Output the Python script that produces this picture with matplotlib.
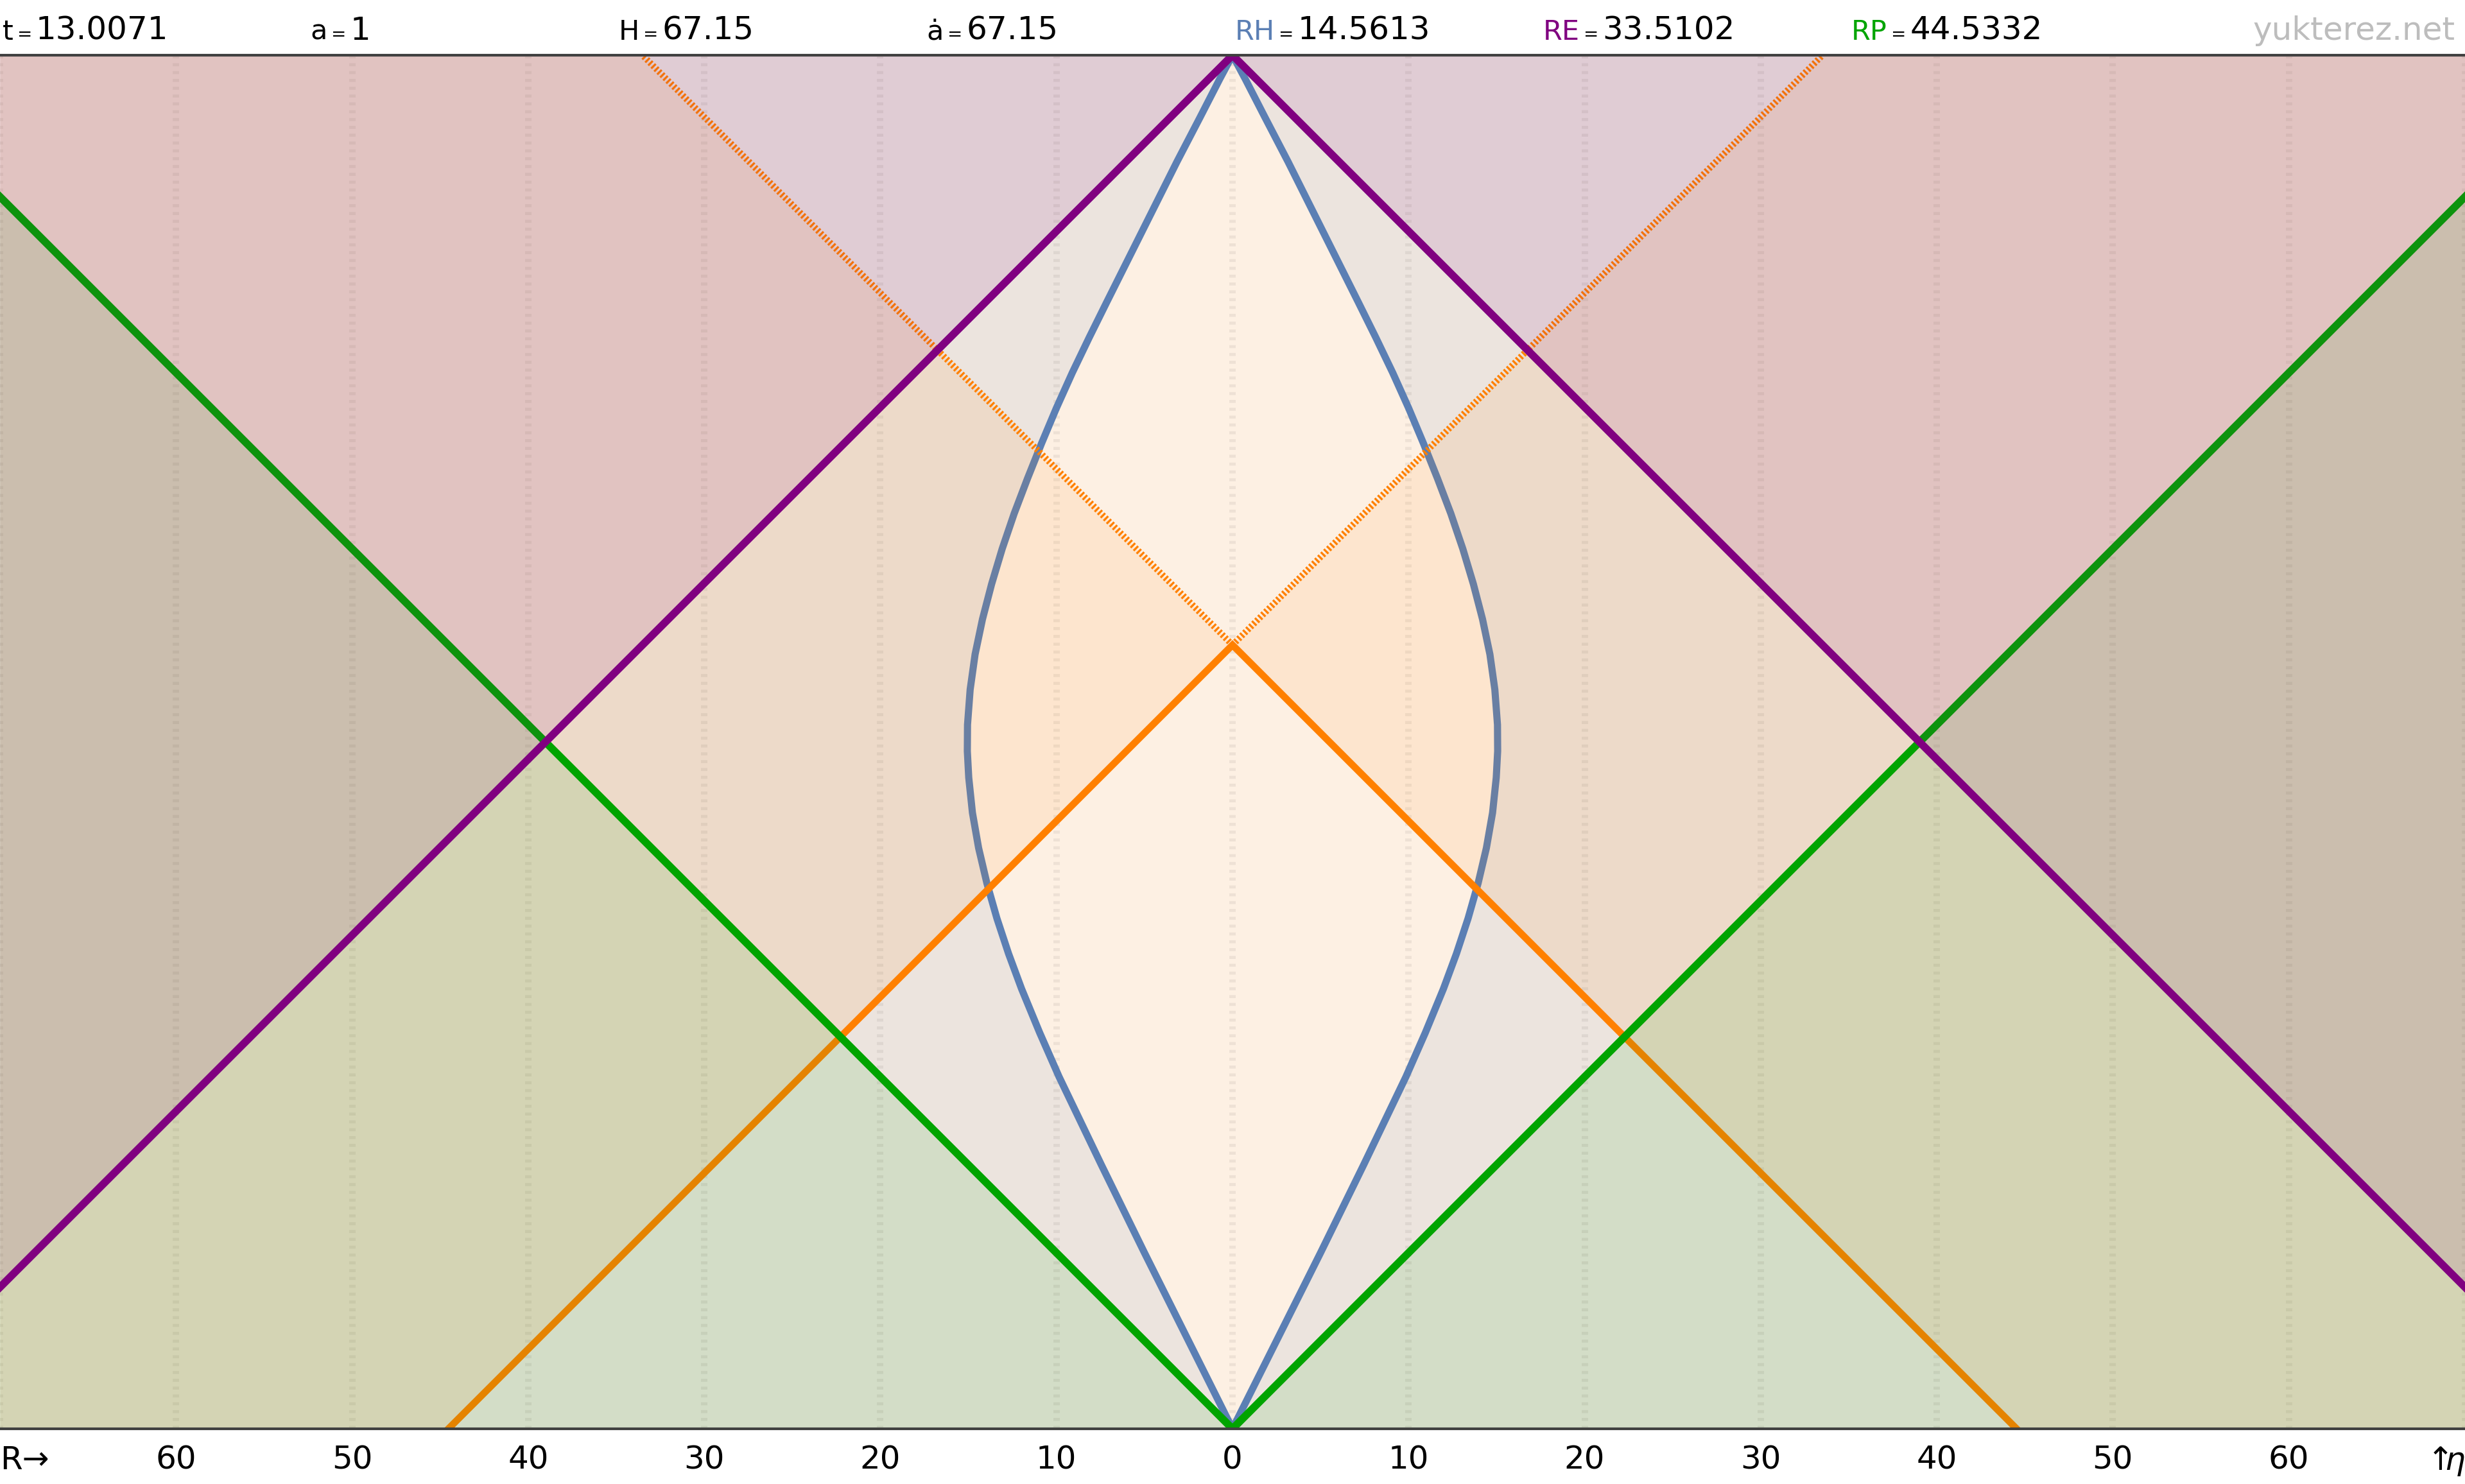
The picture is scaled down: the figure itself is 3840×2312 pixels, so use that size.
import numpy as np
import matplotlib
matplotlib.use("Agg")
import matplotlib.pyplot as plt

# values shown in the header bar
t_txt = "13.0071"
a_txt = "1"
H_txt = "67.15"
adot_txt = "67.15"
RH_txt = "14.5613"
RE_txt = "33.5102"
RP_txt = "44.5332"

# horizons (comoving distance, conformal time)
RE = 33.5102
RP = 44.5332
eta_now = RP
eta_inf = RP + RE

# Hubble sphere, right branch, mirrored for the left
hubble_eta = np.array([0, 5, 10, 15, 20, 22.5, 25, 27, 29, 31, 33, 35, 37, 38.5, 40,
                       42, 44, 46, 48, 50, 52, 54, 56, 58, 60, 62, 64, 66.8, 69, 72,
                       74.5, 76.7, eta_inf])
hubble_R = np.array([0, 2.5, 5.0, 7.45, 9.85, 10.95, 11.98, 12.72, 13.38, 13.95, 14.42,
                     14.77, 14.98, 15.06, 15.05, 14.9, 14.62, 14.2, 13.68, 13.08, 12.4,
                     11.64, 10.84, 10.0, 9.1, 8.14, 7.15, 5.75, 4.65, 3.15, 1.85, 0.72, 0])

tick_pos = np.arange(-70, 71, 10)
tick_labels = ["R→", "60", "50", "40", "30", "20", "10", "0",
               "10", "20", "30", "40", "50", "60", "$\\uparrow\\!\\!\\!\\eta$"]

C_BLUE = "#5b7fb4"
C_ORANGE = "#ff8000"
C_GREEN = "#00a400"
C_PURPLE = "#800080"
FONT = "DejaVu Sans"

XMAX = 70


def place_parts(fig, x, y, parts, renderer):
    for txt, col, size in parts:
        t = fig.text(x, y, txt, color=col, fontsize=size, family=FONT,
                     ha="left", va="baseline")
        bb = t.get_window_extent(renderer)
        x = (bb.x1 + 6) / fig.bbox.width


def main():
    fig = plt.figure(figsize=(19.2, 11.56), dpi=200)
    ax = fig.add_axes([0, 0.0372, 1, 0.9256])
    ax.set_facecolor("#fdf0e3")
    ax.set_xlim(-XMAX, XMAX)
    ax.set_ylim(0, eta_inf)

    # outside Hubble sphere
    ax.fill_betweenx(hubble_eta, hubble_R, XMAX, color=C_BLUE, alpha=0.1, lw=0, zorder=1)
    ax.fill_betweenx(hubble_eta, -XMAX, -hubble_R, color=C_BLUE, alpha=0.1, lw=0, zorder=1)
    ax.plot(hubble_R, hubble_eta, color=C_BLUE, lw=4.0, zorder=2)
    ax.plot(-hubble_R, hubble_eta, color=C_BLUE, lw=4.0, zorder=2)

    # spacelike region w.r.t. "now"
    r = np.array([0, RE, eta_now, XMAX])
    lo = np.clip(eta_now - r, 0, eta_inf)
    hi = np.clip(eta_now + r, 0, eta_inf)
    ax.fill_between(r, lo, hi, color=C_ORANGE, alpha=0.09, lw=0, zorder=3)
    ax.fill_between(-r, lo, hi, color=C_ORANGE, alpha=0.09, lw=0, zorder=3)
    ax.plot([-eta_now, 0, eta_now], [0, eta_now, 0], color=C_ORANGE, lw=3.9,
            solid_joinstyle="miter", zorder=4)
    for s in (-1, 1):
        ax.plot([0, s * RE], [eta_now, eta_inf], color=C_ORANGE, lw=3.6,
                linestyle=(0, (0.33, 0.33)), dash_capstyle="butt", zorder=4)

    # particle horizon
    r = np.array([-XMAX, 0, XMAX])
    ax.fill_between(r, 0, np.abs(r), color=C_GREEN, alpha=0.1, lw=0, zorder=5)
    ax.plot(r, np.abs(r), color=C_GREEN, lw=4.3, solid_joinstyle="miter", zorder=6)

    # event horizon
    ax.fill_between(r, eta_inf - np.abs(r), eta_inf, color=C_PURPLE, alpha=0.1, lw=0, zorder=7)
    ax.plot(r, eta_inf - np.abs(r), color=C_PURPLE, lw=4.3, solid_joinstyle="miter", zorder=8)

    # axes styling
    ax.set_xticks(tick_pos)
    ax.set_xticklabels(tick_labels, family=FONT, fontsize=18)
    labels = ax.get_xticklabels()
    labels[0].set_ha("left")
    labels[-1].set_ha("right")
    ax.tick_params(axis="x", length=0, pad=9)
    ax.set_yticks([])
    ax.grid(axis="x", color="k", alpha=0.06, lw=3.6, linestyle=(0, (0.47, 0.75)), zorder=1.5)
    for side in ("left", "right"):
        ax.spines[side].set_visible(False)
    for side in ("top", "bottom"):
        ax.spines[side].set_color("#404040")
        ax.spines[side].set_linewidth(1.5)
        ax.spines[side].set_zorder(10)

    # header bar
    renderer = fig.canvas.get_renderer()
    y = 1 - 62 / 2312
    header = [
        ("t", "black", t_txt),
        ("a", "black", a_txt),
        ("H", "black", H_txt),
        ("ȧ", "black", adot_txt),
        ("RH", C_BLUE, RH_txt),
        ("RE", C_PURPLE, RE_txt),
        ("RP", C_GREEN, RP_txt),
    ]
    for k, (lab, col, val) in enumerate(header):
        place_parts(fig, k / 8 + 0.001, y,
                    [(lab, col, 15.5), ("=", "black", 10), (val, "black", 18)], renderer)
    fig.text(0.996, y, "yukterez.net", color="#bdbdbd", fontsize=18, family=FONT,
             ha="right", va="baseline")

    fig.savefig("out.png", dpi=200, facecolor="white")


if __name__ == "__main__":
    main()
